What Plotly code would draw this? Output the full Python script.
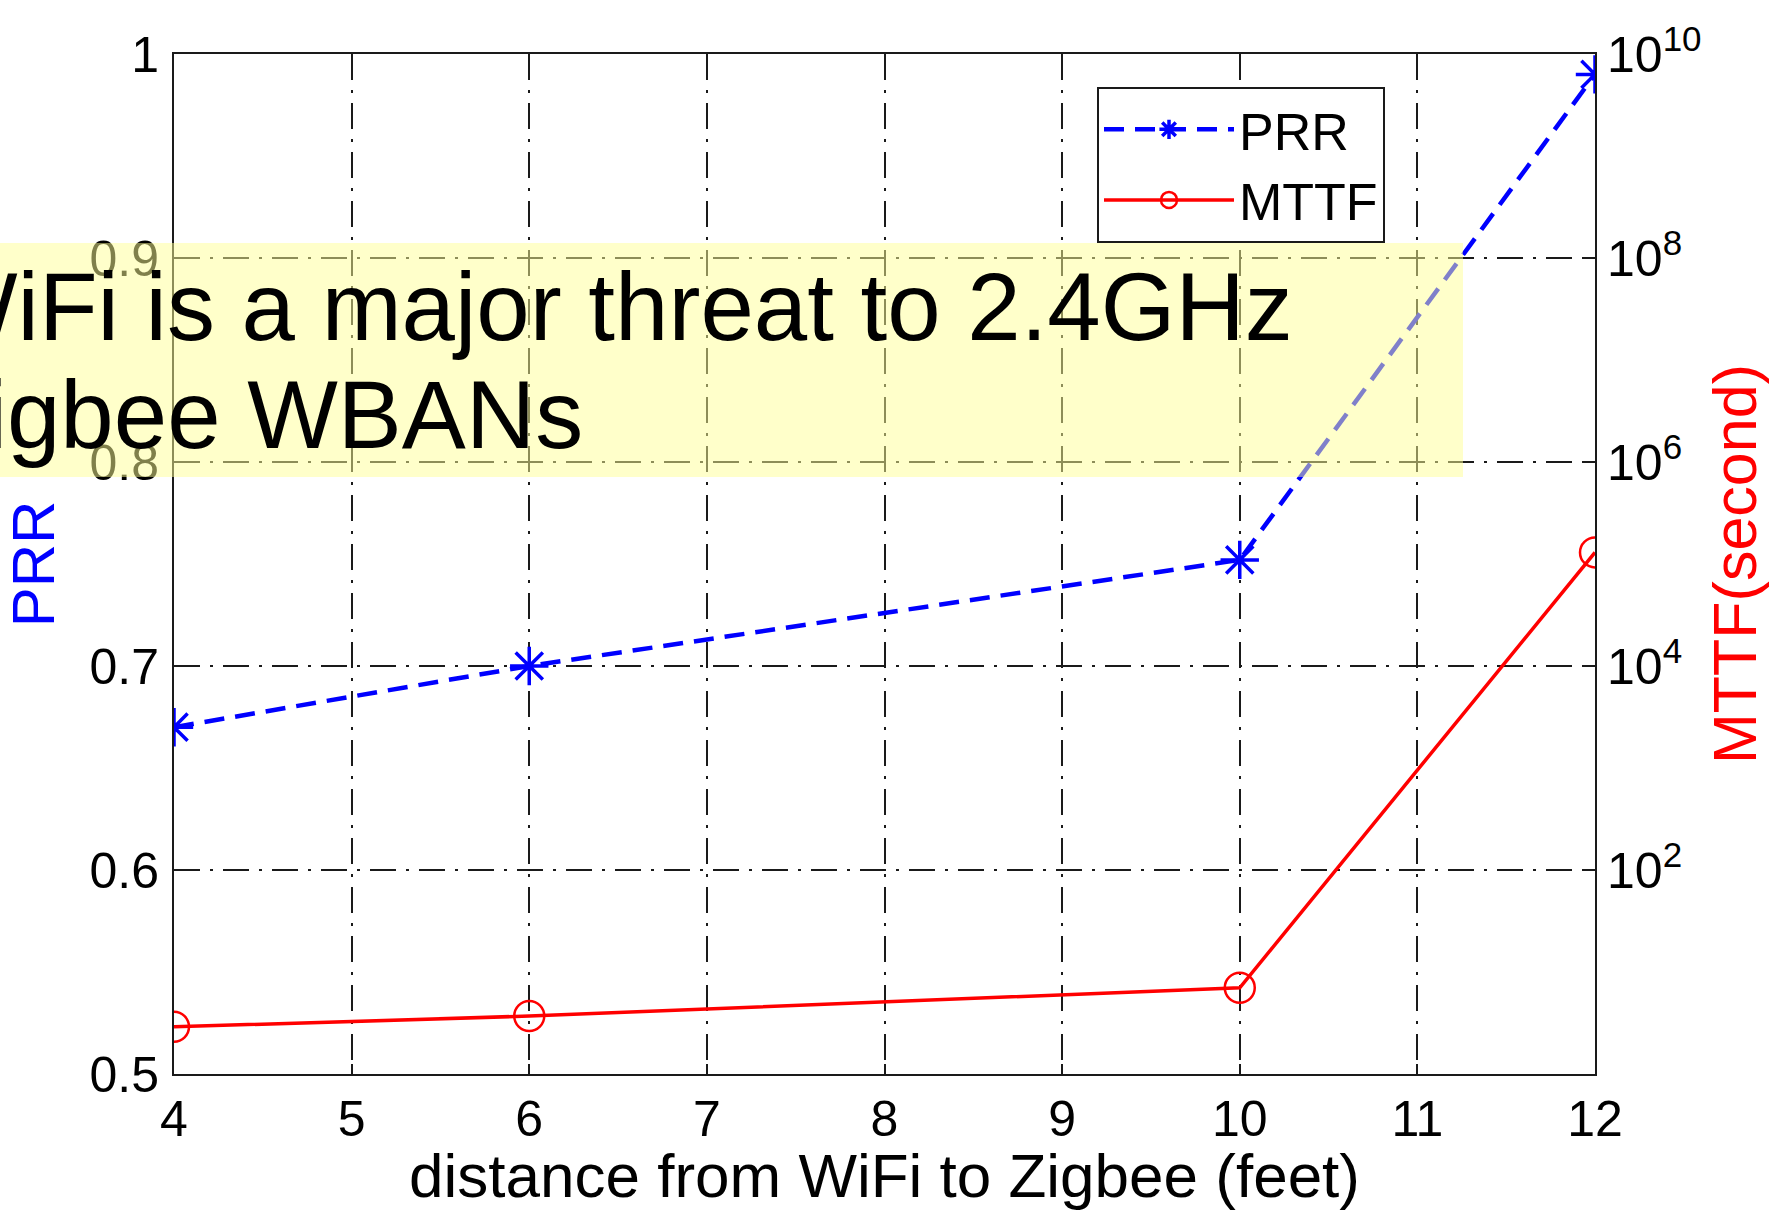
import plotly.graph_objects as go

# ---- data ----
distance = [4, 6, 10, 12]
prr = [0.67, 0.70, 0.752, 0.99]
mttf = [2.9, 3.7, 7.0, 1.3e5]

x_ticks = [4, 5, 6, 7, 8, 9, 10, 11, 12]
y_ticks = [0.5, 0.6, 0.7, 0.8, 0.9, 1.0]
y_ticktext = ["0.5", "0.6", "0.7", "0.8", "0.9", "1"]
y2_ticks = [1e2, 1e4, 1e6, 1e8, 1e10]
y2_ticktext = ["10<sup>2</sup>", "10<sup>4</sup>", "10<sup>6</sup>", "10<sup>8</sup>", "10<sup>10</sup>"]

note_line1 = "WiFi is a major threat to 2.4GHz"
note_line2 = "Zigbee WBANs"

# ---- layout geometry (pixels) ----
W, H = 1769, 1210
L, R, T, B = 174, 174, 54, 136
PW, PH = W - L - R, H - T - B


def px_x(p):
    return (p - L) / PW


def px_y(p):
    return 1 - (p - T) / PH


FONT = "Liberation Sans, Arial, sans-serif"
GRID_DASH = "26px,10px,3px,10px"

fig = go.Figure()

fig.add_trace(go.Scatter(
    x=distance, y=prr, name="PRR", mode="lines+markers",
    line=dict(color="#0000ff", width=4.5, dash="20px,11px"),
    marker=dict(symbol="asterisk-open", size=32, color="#0000ff",
                line=dict(color="#0000ff", width=3.5)),
    yaxis="y",
))
fig.add_trace(go.Scatter(
    x=distance, y=mttf, name="MTTF", mode="lines+markers",
    line=dict(color="#ff0000", width=3.5),
    marker=dict(symbol="circle-open", size=30, color="#ff0000",
                line=dict(color="#ff0000", width=2.5)),
    yaxis="y2",
))

axis_common = dict(
    showline=True, linecolor="#1a1a1a", linewidth=2,
    ticks="inside", ticklen=10, tickwidth=2, tickcolor="#1a1a1a",
    tickfont=dict(family=FONT, size=50, color="#000000"),
    zeroline=False, automargin=False,
)

fig.update_layout(
    width=W, height=H,
    margin=dict(l=L, r=R, t=T, b=B, pad=0, autoexpand=False),
    paper_bgcolor="white", plot_bgcolor="white",
    font=dict(family=FONT, color="#000000"),
    xaxis=dict(
        range=[4, 12], tickvals=x_ticks, ticktext=[str(v) for v in x_ticks],
        showgrid=True, gridcolor="#1a1a1a", gridwidth=2, griddash=GRID_DASH,
        mirror="ticks", ticklabelstandoff=0,
        title=dict(text="distance from WiFi to Zigbee (feet)",
                   font=dict(family=FONT, size=62, color="#000000"), standoff=30),
        **axis_common,
    ),
    yaxis=dict(
        range=[0.5, 1.0], tickvals=y_ticks, ticktext=y_ticktext,
        showgrid=True, gridcolor="#1a1a1a", gridwidth=2, griddash=GRID_DASH,
        mirror=True, ticklabelstandoff=3,
        title=dict(text="PRR", font=dict(family=FONT, size=60, color="#0000ff"), standoff=25),
        **axis_common,
    ),
    yaxis2=dict(
        type="log", range=[0, 10], tickvals=y2_ticks, ticktext=y2_ticktext,
        overlaying="y", side="right", showgrid=False, ticklabelstandoff=0,
        title=dict(text="MTTF(second)", font=dict(family=FONT, size=61, color="#ff0000"), standoff=32),
        **axis_common,
    ),
    legend=dict(
        x=px_x(1097), y=px_y(87), xanchor="left", yanchor="top",
        bgcolor="white", bordercolor="#1a1a1a", borderwidth=2,
        font=dict(family=FONT, size=52, color="#000000"),
        itemwidth=130, tracegroupgap=0,
    ),
    showlegend=True,
)

# translucent highlight box over the plot
fig.add_shape(
    type="rect", xref="paper", yref="paper",
    x0=px_x(0), x1=px_x(1463), y0=px_y(477), y1=px_y(243),
    fillcolor="rgba(255,255,150,0.5)", line=dict(width=0), layer="above",
)

for txt, cy in ((note_line1, 306), (note_line2, 414)):
    fig.add_annotation(
        xref="paper", yref="paper", x=px_x(-74), y=px_y(cy),
        xanchor="left", yanchor="middle", showarrow=False,
        text=txt, font=dict(family=FONT, size=96, color="#000000"),
        align="left", borderpad=0,
    )

fig.write_html("out.html")
